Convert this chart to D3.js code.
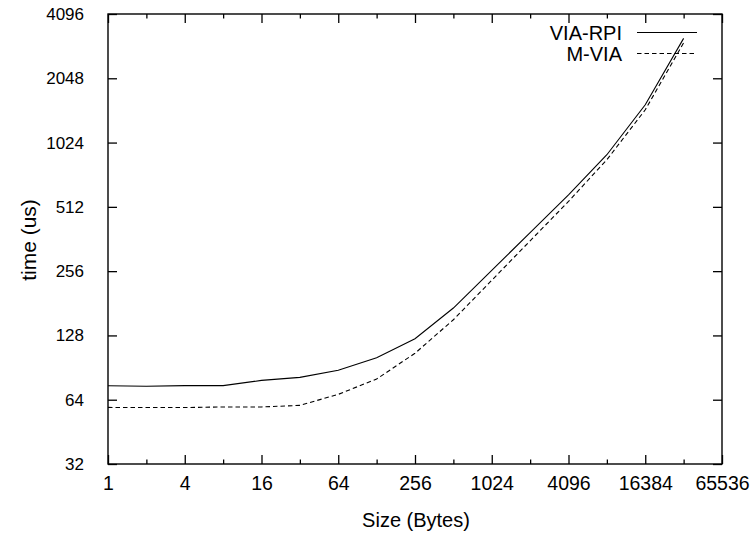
<!DOCTYPE html>
<html>
<head>
<meta charset="utf-8">
<script src="https://cdn.jsdelivr.net/npm/d3@7"></script>
<style>
  html, body { margin: 0; padding: 0; background: #fff; }
  svg { display: block; }
  text { font-family: "Liberation Sans", Arial, Helvetica, sans-serif; fill: #000; }
</style>
</head>
<body>
<svg id="chart" width="755" height="535"></svg>
<script>
const sizes = [1, 2, 4, 8, 16, 32, 64, 128, 256, 512, 1024, 2048, 4096, 8192, 16384, 32768];
const viaRpi = [74.4, 74, 74.5, 74.5, 78.8, 81.4, 88, 100.7, 123.5, 172, 258, 388, 583, 898, 1539, 3150];
const mVia   = [58.9, 58.8, 58.8, 59.2, 59.2, 60.2, 67.8, 80, 105.6, 151.6, 232, 355, 543, 851, 1458, 3001];
const xTickValues = [1, 4, 16, 64, 256, 1024, 4096, 16384, 65536];
const xMinorTicks = [2, 8, 32, 128, 512, 2048, 8192, 32768];
const yTickValues = [32, 64, 128, 256, 512, 1024, 2048, 4096];
const seriesNames = ["VIA-RPI", "M-VIA"];

const svg = d3.select("#chart");
const pL = 108, pR = 722, pT = 14, pB = 464;

const x = d3.scaleLog().base(2).domain([1, 65536]).range([pL, pR]);
const y = d3.scaleLog().base(2).domain([32, 4096]).range([pB, pT]);

const fmt = d => String(d);

// Bottom axis with inward major ticks
const gx = svg.append("g").attr("transform", `translate(0,${pB})`)
  .call(d3.axisBottom(x).tickValues(xTickValues).tickFormat(fmt).tickSizeInner(-9).tickSizeOuter(0).tickPadding(12));
gx.selectAll("text").attr("font-size", 19.5).attr("font-family", "Liberation Sans, Arial, sans-serif");
svg.append("g").attr("transform", `translate(0,${pB})`)
  .call(d3.axisBottom(x).tickValues(xMinorTicks).tickFormat("").tickSizeInner(-4.5).tickSizeOuter(0));
// Top axis
svg.append("g").attr("transform", `translate(0,${pT})`)
  .call(d3.axisTop(x).tickValues(xTickValues).tickFormat("").tickSizeInner(-9).tickSizeOuter(0));
svg.append("g").attr("transform", `translate(0,${pT})`)
  .call(d3.axisTop(x).tickValues(xMinorTicks).tickFormat("").tickSizeInner(-4.5).tickSizeOuter(0));
// Left axis
const gy = svg.append("g").attr("transform", `translate(${pL},0)`)
  .call(d3.axisLeft(y).tickValues(yTickValues).tickFormat(fmt).tickSizeInner(-9).tickSizeOuter(0).tickPadding(24));
gy.selectAll("text").attr("font-size", 17).attr("font-family", "Liberation Sans, Arial, sans-serif");
// Right axis
svg.append("g").attr("transform", `translate(${pR},0)`)
  .call(d3.axisRight(y).tickValues(yTickValues).tickFormat("").tickSizeInner(-9).tickSizeOuter(0));

svg.selectAll(".domain").remove();
svg.selectAll(".tick line").attr("stroke", "#000").attr("stroke-width", 1.3);

// Border
svg.append("rect").attr("x", pL).attr("y", pT).attr("width", pR - pL).attr("height", pB - pT)
  .attr("fill", "none").attr("stroke", "#000").attr("stroke-width", 1.4);

// Lines
const line = d3.line().x((d, i) => x(sizes[i])).y(d => y(d));
svg.append("path").datum(viaRpi).attr("d", line).attr("fill", "none").attr("stroke", "#000").attr("stroke-width", 1.1);
svg.append("path").datum(mVia).attr("d", line).attr("fill", "none").attr("stroke", "#000").attr("stroke-width", 1.1).attr("stroke-dasharray", "4.5,3");

// Legend
const legY = [32.5, 53.5];
const dashes = [null, "4.5,3"];
seriesNames.forEach((name, i) => {
  svg.append("text").attr("x", 622).attr("y", legY[i]).attr("dy", "0.36em").attr("text-anchor", "end")
    .attr("font-size", 20).text(name);
  const l = svg.append("line").attr("x1", 637).attr("x2", 697).attr("y1", legY[i]).attr("y2", legY[i])
    .attr("stroke", "#000").attr("stroke-width", 1.1);
  if (dashes[i]) l.attr("stroke-dasharray", dashes[i]);
});

// Axis titles
svg.append("text").attr("x", 416).attr("y", 520).attr("dy", "0.36em").attr("text-anchor", "middle")
  .attr("font-size", 20).text("Size (Bytes)");
svg.append("text").attr("transform", "translate(28,240) rotate(-90)").attr("dy", "0.36em").attr("text-anchor", "middle")
  .attr("font-size", 21).text("time (us)");
</script>
</body>
</html>
